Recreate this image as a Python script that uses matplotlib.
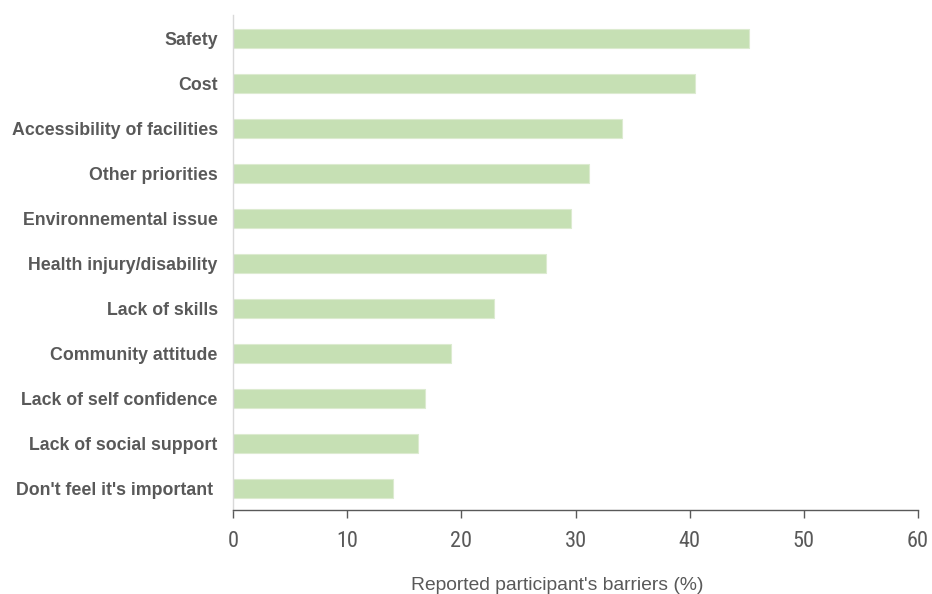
import matplotlib
matplotlib.use("Agg")
import matplotlib.pyplot as plt
from matplotlib import font_manager

categories = ["Safety", "Cost", "Accessibility of facilities", "Other priorities",
              "Environnemental issue", "Health injury/disability", "Lack of skills",
              "Community attitude", "Lack of self confidence", "Lack of social support",
              "Don't feel it's important "]
values = [45.2, 40.5, 34.1, 31.2, 29.6, 27.4, 22.9, 19.1, 16.8, 16.2, 14.0]
xticks = [0, 10, 20, 30, 40, 50, 60]

names = {f.name for f in font_manager.fontManager.ttflist}
narrow = None
for cand in ["Liberation Sans Narrow", "DejaVu Sans Condensed", "Roboto Condensed"]:
    if cand in names:
        narrow = cand
        break

fig = plt.figure(figsize=(9.32, 5.94), dpi=100)
ax = fig.add_axes([0.25, 0.1414, 0.735, 0.8333])

n = len(categories)
ypos = list(range(n))
ax.barh(ypos, values, height=0.42, color="#C6E0B4", edgecolor="#DCEBD0", linewidth=0.8)
ax.set_ylim(n - 0.52, -0.52)
ax.set_xlim(0, 60)
ax.set_yticks(ypos)
ax.set_yticklabels(categories, fontfamily="Liberation Sans", fontweight="bold",
                   fontsize=12.8, color="#595959")
ax.tick_params(axis="y", length=0, pad=11)
ax.set_xticks(xticks)
tickfont = dict(fontsize=16, color="#595959")
if narrow:
    tickfont["fontfamily"] = narrow
ax.set_xticklabels([str(t) for t in xticks], **tickfont)
ax.tick_params(axis="x", length=6, width=1, color="#595959", pad=9, direction="out")

for s in ["top", "right"]:
    ax.spines[s].set_visible(False)
ax.spines["left"].set_color("#D9D9D9")
ax.spines["left"].set_linewidth(1)
ax.spines["bottom"].set_color("#595959")
ax.spines["bottom"].set_linewidth(1)

ax.set_xlabel("Reported participant's barriers (%)",
              fontfamily="Liberation Sans", fontsize=13.9, color="#595959")
ax.xaxis.set_label_coords(0.473, -0.135)

fig.savefig("out.png", dpi=100)
